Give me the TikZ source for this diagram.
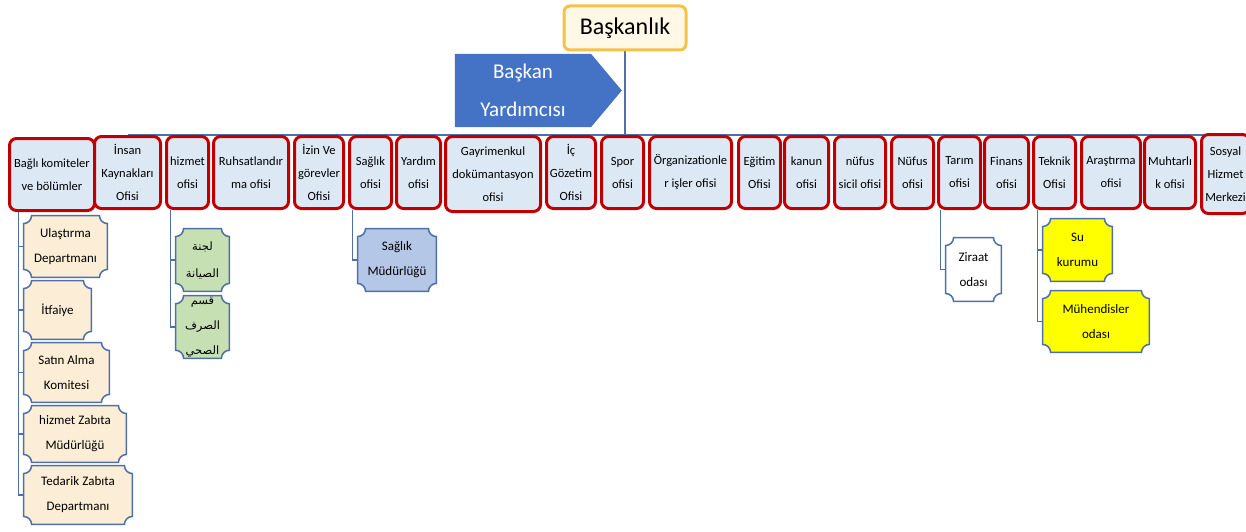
\documentclass[tikz,border=0pt]{standalone}
\usepackage{fontspec}
\setmainfont{Carlito}
\newfontfamily\arabicfont[Script=Arabic]{DejaVu Sans}
\TeXXeTstate=1
\usetikzlibrary{backgrounds,shapes.symbols}
\definecolor{rowred}{HTML}{C00000}
\definecolor{rowfill}{HTML}{DCE8F4}
\definecolor{linkblue}{HTML}{4F6FA8}
\definecolor{headgold}{HTML}{F4C24A}
\definecolor{headfill}{HTML}{FFF8E6}
\definecolor{vicefill}{HTML}{4472C4}
\definecolor{beige}{HTML}{FCEED6}
\definecolor{mint}{HTML}{C6E0B4}
\definecolor{skyfill}{HTML}{B4C7E7}
\definecolor{lemon}{HTML}{FFFF00}
\newcommand\ar[1]{\arabicfont\fontsize{11.5}{22}\selectfont\beginR #1\endR}
\tikzset{
% Box styles for the chart: office row, plaques below, connectors
office node/.style={draw=rowred,line width=3pt,rounded corners=7pt,fill=rowfill,align=center,inner sep=1pt,font=\fontsize{12.5}{23}\selectfont},
plaque node/.style={align=center,inner sep=1pt,font=\fontsize{13}{25}\selectfont},
plaque line/.style={draw=linkblue,line width=1.5pt},
link/.style={draw=linkblue,line width=1.2pt}
}

\begin{document}
\begin{tikzpicture}[x=1pt,y=-1pt]
\useasboundingbox (0,0) rectangle (1246,532);
% The head and the deputy
\node(0)[draw=headgold,line width=3pt,rounded corners=6pt,fill=headfill,minimum width=122,minimum height=44,font=\fontsize{24}{28}\selectfont] at (625,28) {Başkanlık};
\node(vice)[signal,signal to=east,signal pointer angle=100,fill=vicefill,text=white,align=center,minimum width=167,minimum height=73,font=\fontsize{21}{38}\selectfont] at (523,90.5) {Başkan\\Yardımcısı};
% The office row
\foreach \n/\xa/\xb/\ya/\yb/\t in {
1/8/96/137/212/{Bağlı komiteler\\ve bölümler},
2/93/162/135/210/{İnsan\\Kaynakları\\Ofisi},
3/165/210/135/210/{hizmet\\ofisi},
4/212/290/135/210/{Ruhsatlandır\\ma ofisi},
5/293/345/135/210/{İzin Ve\\görevler\\Ofisi},
6/348/393/135/210/{Sağlık\\ofisi},
7/395/442/135/210/{Yardım\\ofisi},
8/444/542/135/213/{Gayrimenkul\\dokümantasyon\\ofisi},
9/545/597/135/210/{İç\\Gözetim\\Ofisi},
10/600/645/135/210/{Spor\\ofisi},
11/648/733/135/210/{Örganizationle\\r işler ofisi},
12/737/782/135/210/{Eğitim\\Ofisi},
13/783/830/135/210/{kanun\\ofisi},
14/833/887/135/210/{nüfus\\sicil ofisi},
15/890/935/135/210/{Nüfus\\ofisi},
16/937/982/135/210/{Tarım\\ofisi},
17/983/1030/135/210/{Finans\\ofisi},
18/1032/1077/135/210/{Teknik\\Ofisi},
19/1080/1142/135/210/{Araştırma\\ofisi},
20/1143/1197/135/210/{Muhtarlı\\k ofisi},
21/1200/1251/133/215/{Sosyal\\Hizmet\\Merkezi}}
\node(\n)[office node,minimum width=\xb-\xa-3,minimum height=\yb-\ya-3] at ({(\xa+\xb)/2},{(\ya+\yb)/2}) {\t};
% The units below the offices
\foreach \n/\xa/\xb/\ya/\yb/\col/\t in {
1a/23/108/215/278/beige/{Ulaştırma\\Departmanı},
1b/23/92/280/340/beige/{İtfaiye},
1c/23/110/342/403/beige/{Satın Alma\\Komitesi},
1d/23/127/405/463/beige/{hizmet Zabıta\\Müdürlüğü},
1e/23/133/465/525/beige/{Tedarik Zabıta\\Departmanı},
3a/175/230/228/292/mint/{\ar{لجنة}\\[2pt]\ar{الصيانة}},
3b/175/230/297/357/mint/{\ar{قسم}\\\ar{الصرف}\\\ar{الصحي}},
6a/357/437/228/292/skyfill/{Sağlık\\Müdürlüğü},
16a/945/1002/237/302/white/{Ziraat\\odası},
18a/1042/1113/218/282/lemon/{Su\\kurumu},
18b/1042/1150/290/353/lemon/{Mühendisler\\odası}}{
\node(\n)[plaque node,minimum width=\xb-\xa-1.5,minimum height=\yb-\ya-1.5] at ({(\xa+\xb)/2},{(\ya+\yb)/2}) {\t};
\begin{pgfonlayer}{background}
\draw[plaque line,fill=\col] ([yshift=-8pt]\n.north west) arc[start angle=-90,end angle=0,radius=8pt]
 -- ([xshift=-8pt]\n.north east) arc[start angle=180,end angle=270,radius=8pt]
 -- ([yshift=8pt]\n.south east) arc[start angle=90,end angle=180,radius=8pt]
 -- ([xshift=8pt]\n.south west) arc[start angle=0,end angle=90,radius=8pt] -- cycle;
\end{pgfonlayer}
}
% Connectors
\begin{pgfonlayer}{background}
\draw[link] (0) -- (0 |- 2.north);
\draw[link] (2.north) -- (21.north |- 2.north);
\end{pgfonlayer}
\foreach \p/\f/\cs in {1/1a/{1a,1b,1c,1d,1e},3/3a/{3a,3b},6/6a/{6a},16/16a/{16a},18/18a/{18a,18b}}{
\path (\f.west |- \p.south) ++(-5pt,0) coordinate (t);
\foreach \k in \cs \draw[link] (t) |- (\k.west);
}
\end{tikzpicture}
\end{document}
